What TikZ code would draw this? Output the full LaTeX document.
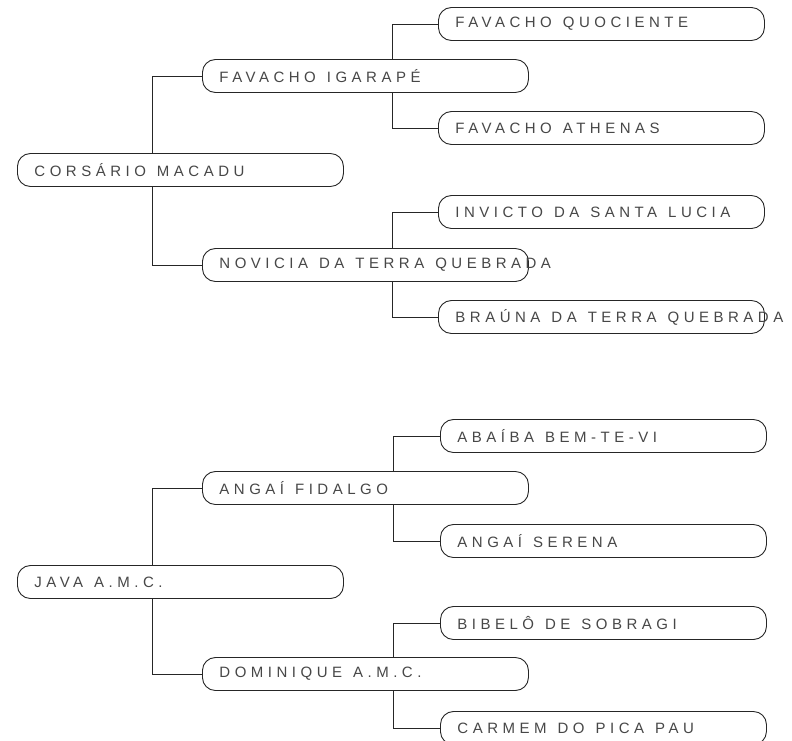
\documentclass[tikz,border=0pt]{standalone}
\usepackage{fontspec}
\newfontfamily\pedfont[LetterSpace=30]{Liberation Sans}
\usetikzlibrary{backgrounds}
\newcommand{\pedletra}{\pedfont\fontsize{15}{18}\selectfont}
\tikzset{
    cavalo/.style={draw=black!85, line width=0.9pt, fill=white, rounded corners=13pt,
        anchor=west, minimum height=33pt, text width=292pt, inner xsep=17pt,
        inner ysep=0pt, align=left, font=\pedletra, text=black!72},
    linha/.style={draw=black!85, line width=0.9pt}
}
\newcommand{\nome}[1]{\rlap{#1}}
\newcommand{\esp}{\kern11pt\relax}
\begin{document}
\begin{tikzpicture}[x=1pt, y=-1pt]
        %系谱: 左边是马, 中间父母, 右边祖父母
        \useasboundingbox (0, 0) rectangle (792, 741);
        \node[cavalo] (cm) at (17, 170) {\nome{CORSÁRIO\esp MACADU}};
        \node[cavalo] (fi) at (202, 76) {\nome{FAVACHO\esp IGARAPÉ}};
        \node[cavalo] (nq) at (202, 265) {\nome{NOVICIA\esp DA\esp TERRA\esp QUEBRADA}};
        \node[cavalo] (fq) at (438, 24) {\nome{FAVACHO\esp QUOCIENTE}};
        \node[cavalo] (fa) at (438, 128) {\nome{FAVACHO\esp ATHENAS}};
        \node[cavalo] (ic) at (438, 212) {\nome{INVICTO\esp DA\esp SANTA\esp LUCIA}};
        \node[cavalo] (bt) at (438, 317) {\nome{BRAÚNA\esp DA\esp TERRA\esp QUEBRADA}};
        \node[cavalo] (jv) at (17, 582) {\nome{JAVA\esp A.M.C.}};
        \node[cavalo] (af) at (202, 488) {\nome{ANGAÍ\esp FIDALGO}};
        \node[cavalo] (dm) at (202, 674) {\nome{DOMINIQUE\esp A.M.C.}};
        \node[cavalo] (ab) at (440, 436) {\nome{ABAÍBA\esp BEM-TE-VI}};
        \node[cavalo] (as) at (440, 541) {\nome{ANGAÍ\esp SERENA}};
        \node[cavalo] (bs) at (440, 623) {\nome{BIBELÔ\esp DE\esp SOBRAGI}};
        \node[cavalo] (cp) at (440, 728) {\nome{CARMEM\esp DO\esp PICA\esp PAU}};
        \begin{scope}[on background layer]
            \draw[linha] (fi.west) -- ++(-50, 0) |- (nq.west);
            \draw[linha] (fq.west) -- ++(-46, 0) |- (fa.west);
            \draw[linha] (ic.west) -- ++(-46, 0) |- (bt.west);
            \draw[linha] (af.west) -- ++(-50, 0) |- (dm.west);
            \draw[linha] (ab.west) -- ++(-47, 0) |- (as.west);
            \draw[linha] (bs.west) -- ++(-47, 0) |- (cp.west);
        \end{scope}
    \end{tikzpicture}
\end{document}
